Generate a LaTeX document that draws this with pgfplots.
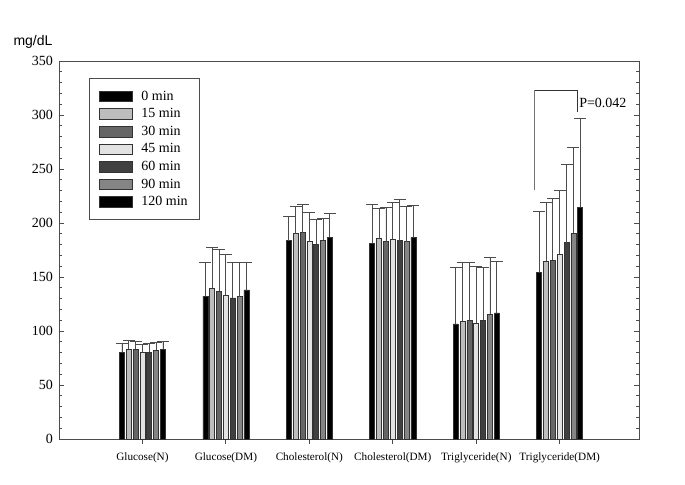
\documentclass[border=0pt]{standalone}
\usepackage{pgfplots}
\pgfplotsset{compat=1.18}
\usepackage{fontspec}
\setmainfont{Liberation Serif}
\newfontfamily\arial{Liberation Sans}

\definecolor{cA}{HTML}{000000}
\definecolor{cB}{HTML}{BDBDBD}
\definecolor{cC}{HTML}{666666}
\definecolor{cD}{HTML}{E2E2E2}
\definecolor{cE}{HTML}{404040}
\definecolor{cF}{HTML}{858585}
\definecolor{cG}{HTML}{000000}

\pgfplotsset{
  grp/.style={
    fill=#1, draw=black!80, line width=0.5pt,
    error bars/.cd, y dir=plus, y explicit,
    error bar style={line width=0.6pt, draw=black!70},
    error mark options={rotate=90, mark size=4.5pt, line width=0.6pt, draw=black!70},
    /pgfplots/.cd,
  },
}

\begin{document}
\begin{tikzpicture}
\begin{axis}[
  scale only axis,
  width=435pt, height=283.5pt,
  xmin=0, xmax=6.95,
  ymin=0, ymax=350,
  axis line style={black!70, line width=0.7pt},
  ytick={0,50,...,350},
  yticklabel={\pgfmathprintnumber[assume math mode=true]{\tick}},
  minor y tick num=4,
  ytick align=inside,
  ytick pos=both,
  major tick length=4pt, minor tick length=2.5pt,
  tick style={black!70, line width=0.6pt},
  xtick={1,2,3,4,5,6},
  xticklabels={Glucose(N), Glucose(DM), Cholesterol(N), Cholesterol(DM), Triglyceride(N), Triglyceride(DM)},
  xtick align=outside,
  xtick pos=left,
  xticklabel style={font=\fontsize{8.4}{10}\selectfont, yshift=-3pt},
  yticklabel style={font=\fontsize{10.5}{12}\selectfont, xshift=-1pt},
  ybar, bar width=0.06,
  clip=false,
  legend cell align=left,
  legend image code/.code={\draw[#1, draw=black!80] (0pt,-4pt) rectangle (25pt,4pt);},
  legend style={
    at={(rel axis cs:0.0517,0.954)}, anchor=north west,
    draw=black!70, line width=0.6pt,
    font=\fontsize{10.5}{12}\selectfont,
    inner xsep=7pt, inner ysep=7.5pt,
    row sep=1.7pt, column sep=5pt,
    nodes={inner sep=1.5pt, text height=7pt, text depth=1.5pt},
  },
]
\addplot[grp=cA, bar shift=-0.246] coordinates {
  (1,80.3) +- (0,8.6) (2,132.4) +- (0,31.2) (3,183.6) +- (0,22.6)
  (4,181.2) +- (0,36.4) (5,106.5) +- (0,52.1) (6,154.6) +- (0,55.9)};
\addlegendentry{0 min}
\addplot[grp=cB, bar shift=-0.164] coordinates {
  (1,83.3) +- (0,8.4) (2,139.8) +- (0,37.4) (3,190.0) +- (0,25.1)
  (4,185.8) +- (0,27.8) (5,108.9) +- (0,54.4) (6,164.8) +- (0,54.0)};
\addlegendentry{15 min}
\addplot[grp=cC, bar shift=-0.082] coordinates {
  (1,83.3) +- (0,7.4) (2,137.0) +- (0,38.6) (3,191.0) +- (0,26.0)
  (4,182.7) +- (0,31.5) (5,109.9) +- (0,53.7) (6,165.7) +- (0,57.1)};
\addlegendentry{30 min}
\addplot[grp=cD, bar shift=0] coordinates {
  (1,80.5) +- (0,7.1) (2,133.3) +- (0,37.7) (3,182.7) +- (0,26.9)
  (4,184.9) +- (0,33.9) (5,107.4) +- (0,52.5) (6,171.0) +- (0,58.9)};
\addlegendentry{45 min}
\addplot[grp=cE, bar shift=0.082] coordinates {
  (1,80.5) +- (0,8.1) (2,130.6) +- (0,33.0) (3,180.2) +- (0,23.5)
  (4,183.6) +- (0,38.0) (5,110.2) +- (0,48.4) (6,181.8) +- (0,72.8)};
\addlegendentry{60 min}
\addplot[grp=cF, bar shift=0.164] coordinates {
  (1,82.0) +- (0,7.8) (2,131.8) +- (0,31.8) (3,184.0) +- (0,20.6)
  (4,182.7) +- (0,32.4) (5,115.7) +- (0,52.2) (6,190.7) +- (0,79.1)};
\addlegendentry{90 min}
\addplot[grp=cG, bar shift=0.246] coordinates {
  (1,83.3) +- (0,7.1) (2,138.0) +- (0,25.9) (3,187.0) +- (0,21.6)
  (4,186.7) +- (0,29.3) (5,116.7) +- (0,47.8) (6,214.8) +- (0,81.8)};
\addlegendentry{120 min}

% significance bracket
\draw[black!55, line width=0.6pt] (axis cs:5.70,230.6) -- (axis cs:5.70,323);
\draw[black!80, line width=0.6pt] (axis cs:5.70,323) -- (axis cs:6.21,323) -- (axis cs:6.21,302.5);
\node[anchor=west, inner sep=1pt, font=\fontsize{10.5}{12}\selectfont] at (axis cs:6.215,311) {P=0.042};

\node[font=\arial\fontsize{10.5}{12}\selectfont] at (rel axis cs:-0.0448,1.050) {mg/dL};

\path (rel axis cs:-0.1017,-0.119) rectangle (rel axis cs:1.0793,1.1614);
\end{axis}
\end{tikzpicture}
\end{document}
